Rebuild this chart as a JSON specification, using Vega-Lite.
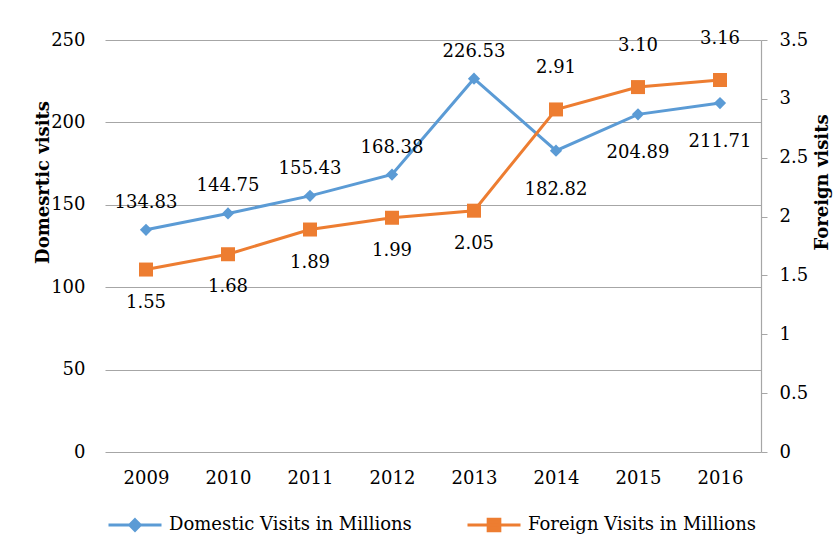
{
  "$schema": "https://vega.github.io/schema/vega-lite/v6.json",
  "width": 656,
  "height": 412,
  "autosize": {"type": "none"},
  "padding": {"left": 105, "top": 40, "right": 79, "bottom": 103},
  "background": "white",
  "config": {
    "font": "DejaVu Serif",
    "view": {"stroke": null},
    "axis": {"labelFont": "DejaVu Serif", "labelFontSize": 18, "labelColor": "#000000", "titleFont": "DejaVu Serif", "titleFontSize": 18, "titleColor": "#000000"},
    "text": {"font": "DejaVu Serif", "fontSize": 18, "color": "#000000"},
    "legend": {"labelFont": "DejaVu Serif", "labelFontSize": 18, "labelColor": "#000000", "labelLimit": 0, "symbolSize": 2809, "symbolStrokeWidth": 3, "labelOffset": 6, "symbolOpacity": 1}
  },
  "data": {
    "values": [
      {"year": 2009, "domestic": 134.83, "foreign": 1.55},
      {"year": 2010, "domestic": 144.75, "foreign": 1.68},
      {"year": 2011, "domestic": 155.43, "foreign": 1.89},
      {"year": 2012, "domestic": 168.38, "foreign": 1.99},
      {"year": 2013, "domestic": 226.53, "foreign": 2.05},
      {"year": 2014, "domestic": 182.82, "foreign": 2.91},
      {"year": 2015, "domestic": 204.89, "foreign": 3.10},
      {"year": 2016, "domestic": 211.71, "foreign": 3.16}
    ]
  },
  "encoding": {
    "x": {"field": "year", "type": "ordinal", "axis": {"title": null, "labelAngle": 0, "domain": false, "ticks": false, "labelPadding": 17}}
  },
  "layer": [
    {
      "encoding": {
        "y": {"field": "domestic", "type": "quantitative", "scale": {"domain": [0, 250], "nice": false},
          "axis": {"orient": "left", "title": "Domesrtic visits", "values": [0, 50, 100, 150, 200, 250], "grid": true, "gridColor": "#A6A6A6", "gridWidth": 1.2, "domain": false, "ticks": false, "labelPadding": 20, "titleFontWeight": "bold", "titleAngle": 270, "titleX": -62, "titleY": 142, "titleAlign": "center", "titleBaseline": "middle"}}
      },
      "layer": [
        {"mark": {"type": "line", "strokeWidth": 3},
          "encoding": {"color": {"datum": "Domestic Visits in Millions", "type": "nominal",
            "scale": {"domain": ["Domestic Visits in Millions"], "range": ["#5B9BD5"]},
            "legend": {"title": null, "orient": "none", "legendX": 2, "legendY": 457,
              "symbolType": "M-1,0H1M0,-0.2L0.2,0L0,0.2L-0.2,0Z", "symbolFillColor": "#5B9BD5", "symbolStrokeColor": "#5B9BD5"}}}},
        {"mark": {"type": "point", "shape": "diamond", "filled": true, "size": 150, "opacity": 1, "color": "#5B9BD5"}},
        {"transform": [{"filter": "datum.year <= 2013"}], "mark": {"type": "text", "dy": -27, "baseline": "middle"}, "encoding": {"text": {"field": "domestic", "type": "quantitative", "format": ".2f"}}},
        {"transform": [{"filter": "datum.year > 2013"}], "mark": {"type": "text", "dy": 39, "baseline": "middle"}, "encoding": {"text": {"field": "domestic", "type": "quantitative", "format": ".2f"}}}
      ]
    },
    {
      "encoding": {
        "y": {"field": "foreign", "type": "quantitative", "scale": {"domain": [0, 3.5], "nice": false},
          "axis": {"orient": "right", "title": "Foreign visits", "values": [0, 0.5, 1, 1.5, 2, 2.5, 3, 3.5], "labelExpr": "'' + datum.value", "grid": false, "domain": true, "domainColor": "#A6A6A6", "domainWidth": 1.2, "ticks": true, "tickColor": "#A6A6A6", "tickSize": 6, "labelPadding": 12, "titleFontWeight": "bold", "titleAngle": 270, "titleX": 61, "titleY": 142, "titleAlign": "center", "titleBaseline": "middle"}}
      },
      "layer": [
        {"mark": {"type": "line", "strokeWidth": 3},
          "encoding": {"color": {"datum": "Foreign Visits in Millions", "type": "nominal",
            "scale": {"domain": ["Foreign Visits in Millions"], "range": ["#ED7D31"]},
            "legend": {"title": null, "orient": "none", "legendX": 361, "legendY": 457,
              "symbolType": "M-1,0H1M-0.22,-0.22H0.22V0.22H-0.22Z", "symbolFillColor": "#ED7D31", "symbolStrokeColor": "#ED7D31"}}}},
        {"mark": {"type": "point", "shape": "square", "filled": true, "size": 196, "opacity": 1, "color": "#ED7D31"}},
        {"transform": [{"filter": "datum.year <= 2013"}], "mark": {"type": "text", "dy": 33, "baseline": "middle"}, "encoding": {"text": {"field": "foreign", "type": "quantitative", "format": ".2f"}}},
        {"transform": [{"filter": "datum.year > 2013"}], "mark": {"type": "text", "dy": -41, "baseline": "middle"}, "encoding": {"text": {"field": "foreign", "type": "quantitative", "format": ".2f"}}}
      ]
    }
  ],
  "resolve": {"scale": {"y": "independent", "color": "independent"}}
}
